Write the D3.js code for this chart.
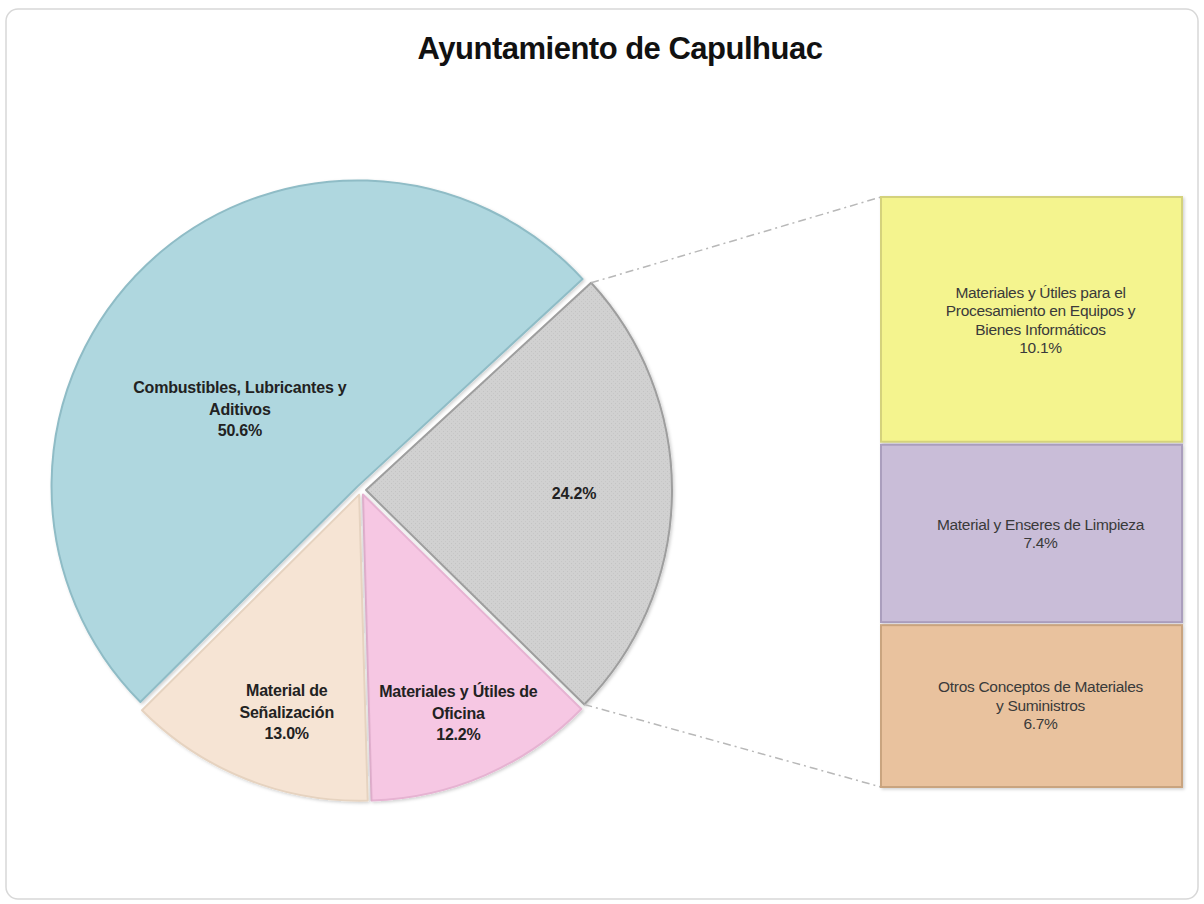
<!DOCTYPE html>
<html>
<head>
<meta charset="utf-8">
<title>Ayuntamiento de Capulhuac</title>
<script src="https://cdn.jsdelivr.net/npm/d3@7"></script>
<style>
  body { margin: 0; background: #fff; }
  svg { display: block; font-family: "Liberation Sans", Arial, sans-serif; }
</style>
</head>
<body>
<div id="chart"></div>
<script>
// data
var title = "Ayuntamiento de Capulhuac";
var pieNames = ["Combustibles, Lubricantes y\nAditivos", "", "Materiales y Útiles de\nOficina", "Material de\nSeñalización"];
var pieValues = [50.6, 24.2, 12.2, 13.0];
var barNames = ["Materiales y Útiles para el\nProcesamiento en Equipos y\nBienes Informáticos", "Material y Enseres de Limpieza", "Otros Conceptos de Materiales\ny Suministros"];
var barValues = [10.1, 7.4, 6.7];

// styles
var pieColors = ["#afd7df", "url(#dots)", "#f6c7e3", "#f6e4d4"];
var pieEdges = ["#8fbcc6", "#9e9e9e", "#e6b3d2", "#e6d3c0"];
var barColors = ["#f4f48e", "#c9bdd8", "#e9c29e"];
var barEdges = ["#d4d27c", "#aa9ebd", "#c9a47f"];

var W = 1204, H = 904;
var cx = 361, cy = 490, R = 306, explode = 5;
var startDeg = -134.8;
// label placement per slice (fraction of radius, angle nudge in degrees)
var labelR = [0.46, 0.68, 0.78, 0.75];
var labelNudge = [-13, 0, 0, -3.4];

var svg = d3.select("#chart").append("svg")
    .attr("width", W).attr("height", H);

var defs = svg.append("defs");
var pat = defs.append("pattern").attr("id", "dots")
    .attr("width", 4).attr("height", 4).attr("patternUnits", "userSpaceOnUse");
pat.append("rect").attr("width", 4).attr("height", 4).attr("fill", "#d1d1d1");
pat.append("rect").attr("x", 1).attr("y", 1).attr("width", 1).attr("height", 1).attr("fill", "#c2c2c2");
pat.append("rect").attr("x", 3).attr("y", 3).attr("width", 1).attr("height", 1).attr("fill", "#c6c6c6");

var f = defs.append("filter").attr("id", "shadow")
    .attr("x", "-10%").attr("y", "-10%").attr("width", "120%").attr("height", "120%");
f.append("feDropShadow").attr("dx", 1.5).attr("dy", 1.5).attr("stdDeviation", 1.5)
    .attr("flood-color", "#000").attr("flood-opacity", 0.18);

// frame
svg.append("rect")
    .attr("x", 6).attr("y", 9).attr("width", W - 12).attr("height", H - 14)
    .attr("rx", 12).attr("fill", "#fff")
    .attr("stroke", "#d8d8d8").attr("stroke-width", 1.5);

svg.append("text")
    .attr("x", 620).attr("y", 59)
    .attr("text-anchor", "middle")
    .style("font-size", "31px").style("font-weight", "bold").style("fill", "#111")
    .style("letter-spacing", "-0.5px")
    .text(title);

// pie
var a0 = startDeg * Math.PI / 180;
var pie = d3.pie().sort(null).startAngle(a0).endAngle(a0 + 2 * Math.PI);
var arcs = pie(pieValues);
var arc = d3.arc().innerRadius(0).outerRadius(R);

function offset(d) {
  var m = (d.startAngle + d.endAngle) / 2;
  return [Math.sin(m) * explode, -Math.cos(m) * explode];
}

var g = svg.append("g").attr("transform", "translate(" + cx + "," + cy + ")");

g.selectAll("path.slice")
  .data(arcs)
  .enter().append("path")
    .attr("class", "slice")
    .attr("transform", function(d) { var o = offset(d); return "translate(" + o[0] + "," + o[1] + ")"; })
    .attr("d", arc)
    .attr("fill", function(d, i) { return pieColors[i]; })
    .attr("stroke", function(d, i) { return pieEdges[i]; })
    .attr("stroke-width", 2)
    .attr("stroke-linejoin", "round")
    .attr("filter", "url(#shadow)");

// connectors from the "other" slice to the bar
var other = arcs[1];
var oo = offset(other);
var barX = 881, barW = 301;
var yScale = d3.scaleLinear().domain([0, d3.sum(barValues)]).range([197, 787]);

var ends = [
  [oo[0] + Math.sin(other.startAngle) * R, oo[1] - Math.cos(other.startAngle) * R, yScale(0)],
  [oo[0] + Math.sin(other.endAngle) * R, oo[1] - Math.cos(other.endAngle) * R, yScale(d3.sum(barValues))]
];
svg.selectAll("line.conn")
  .data(ends)
  .enter().append("line")
    .attr("class", "conn")
    .attr("x1", function(d) { return cx + d[0]; })
    .attr("y1", function(d) { return cy + d[1]; })
    .attr("x2", barX)
    .attr("y2", function(d) { return d[2]; })
    .attr("stroke", "#b8b8b8").attr("stroke-width", 1.5)
    .attr("stroke-dasharray", "8,4,2,4");

// pie labels
var lhPie = 21.5;
g.selectAll("text.plabel")
  .data(arcs)
  .enter().append("text")
    .attr("class", "plabel")
    .attr("text-anchor", "middle")
    .style("font-size", "16px").style("font-weight", "bold").style("fill", "#222")
    .style("letter-spacing", "-0.2px")
    .each(function(d, i) {
      var m = (d.startAngle + d.endAngle) / 2 + labelNudge[i] * Math.PI / 180;
      var o = offset(d);
      var lx = o[0] + Math.sin(m) * R * labelR[i];
      var ly = o[1] - Math.cos(m) * R * labelR[i];
      var lines = pieNames[i] ? pieNames[i].split("\n") : [];
      lines.push(d3.format(".1f")(pieValues[i]) + "%");
      var t = d3.select(this);
      lines.forEach(function(s, k) {
        t.append("tspan")
          .attr("x", lx)
          .attr("y", ly + (k - (lines.length - 1) / 2) * lhPie)
          .attr("dominant-baseline", "central")
          .text(s);
      });
    });

// bar of the "other" slice
var stack = [];
var acc = 0;
barValues.forEach(function(v, i) {
  stack.push({ name: barNames[i], value: v, y0: acc, y1: acc + v, i: i });
  acc += v;
});

var bg = svg.append("g");
bg.selectAll("rect.seg")
  .data(stack)
  .enter().append("rect")
    .attr("class", "seg")
    .attr("x", barX)
    .attr("y", function(d) { return yScale(d.y0) + (d.i > 0 ? 1.5 : 0); })
    .attr("width", barW)
    .attr("height", function(d) {
      var h = yScale(d.y1) - yScale(d.y0);
      if (d.i > 0) h -= 1.5;
      if (d.i < stack.length - 1) h -= 1.5;
      return h;
    })
    .attr("fill", function(d) { return barColors[d.i]; })
    .attr("stroke", function(d) { return barEdges[d.i]; })
    .attr("stroke-width", 2)
    .attr("filter", "url(#shadow)");

var lhBar = 18.5;
bg.selectAll("text.blabel")
  .data(stack)
  .enter().append("text")
    .attr("class", "blabel")
    .attr("text-anchor", "middle")
    .style("font-size", "15.5px").style("fill", "#3a3a3a")
    .style("letter-spacing", "-0.3px")
    .each(function(d) {
      var lx = barX + barW / 2 + 9;
      var ly = (yScale(d.y0) + yScale(d.y1)) / 2;
      var lines = d.name.split("\n");
      lines.push(d3.format(".1f")(d.value) + "%");
      var t = d3.select(this);
      lines.forEach(function(s, k) {
        t.append("tspan")
          .attr("x", lx)
          .attr("y", ly + (k - (lines.length - 1) / 2) * lhBar)
          .attr("dominant-baseline", "central")
          .text(s);
      });
    });
</script>
</body>
</html>
